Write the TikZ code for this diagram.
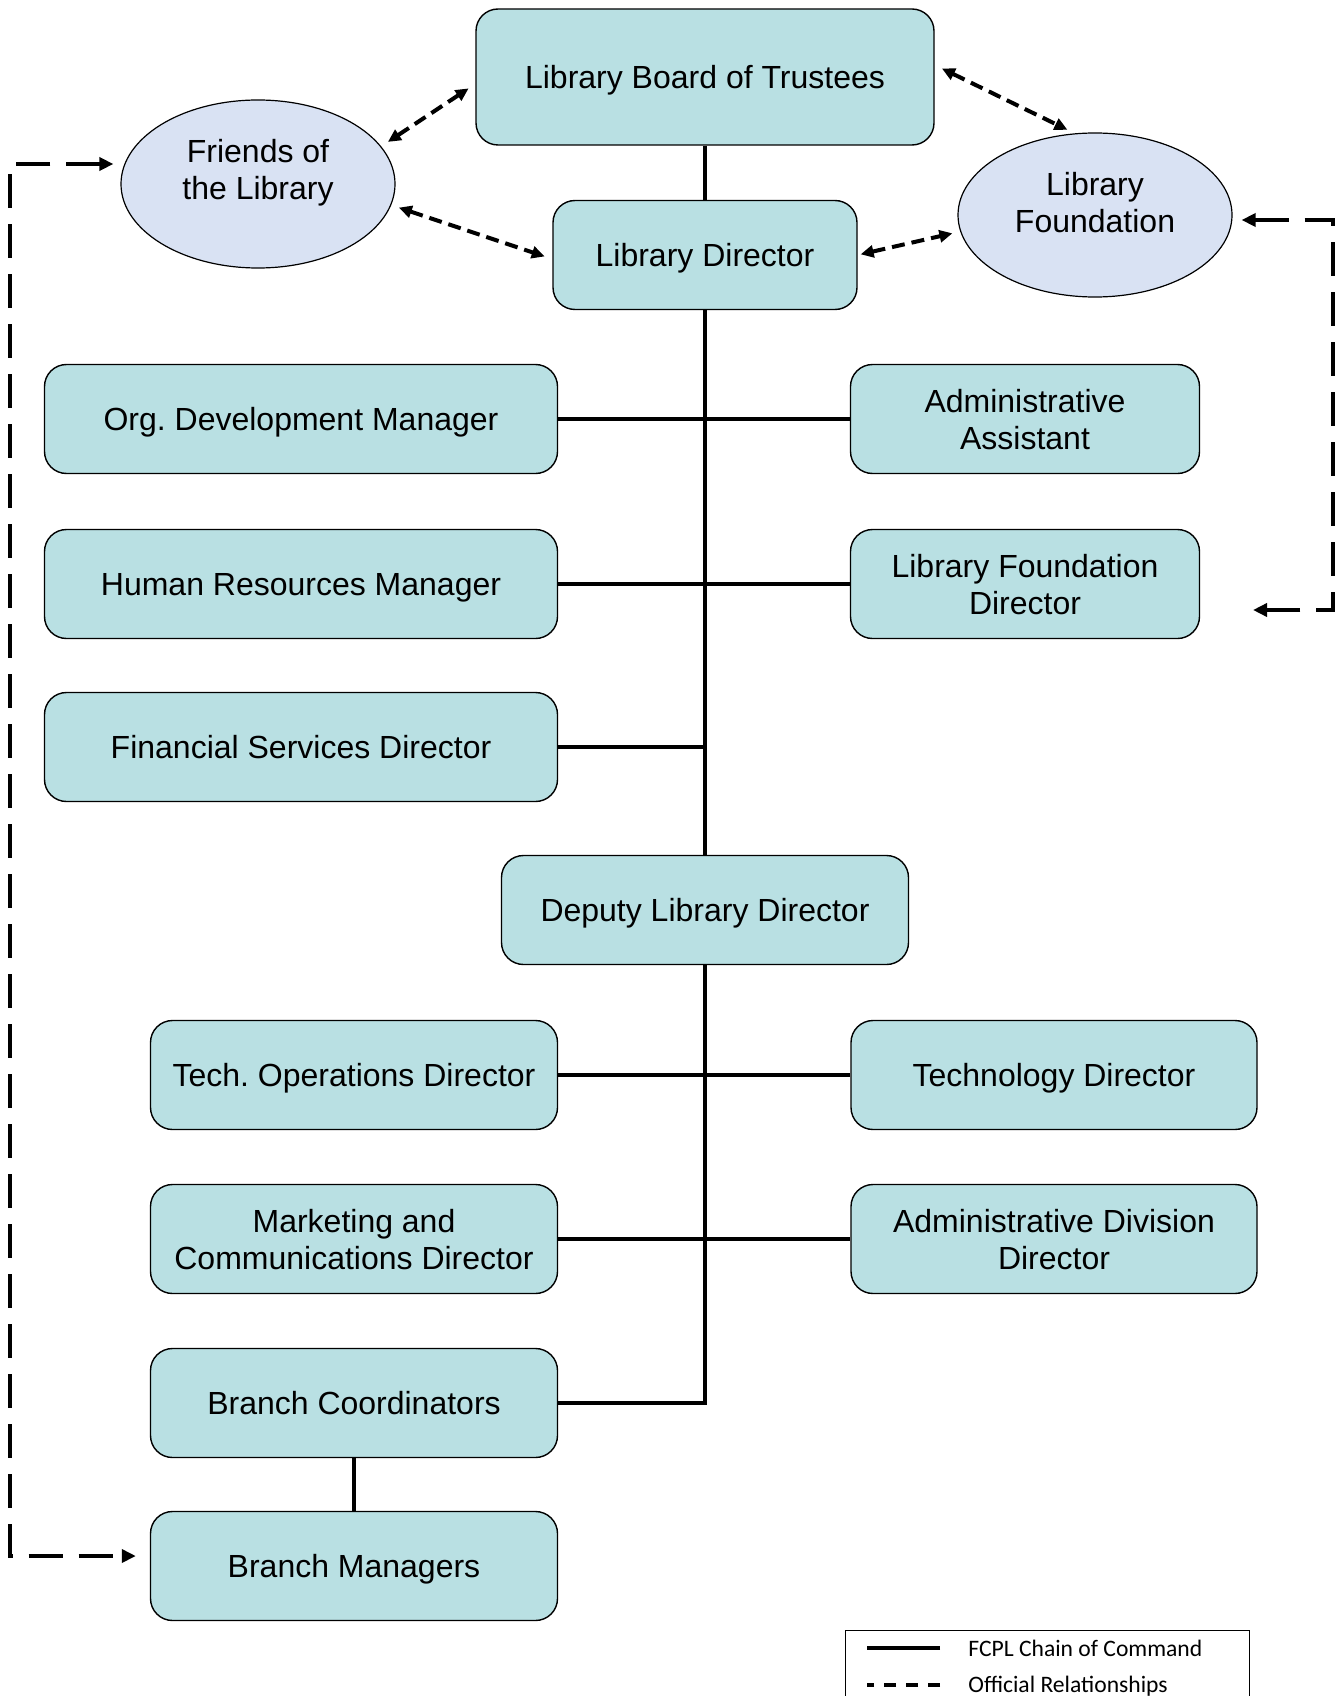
\documentclass[tikz,border=0pt]{standalone}
\usepackage{fontspec}
\setmainfont{Liberation Sans}
\newfontfamily\legendfont{Carlito}
\usetikzlibrary{arrows.meta,shapes.geometric}
\frenchspacing

\definecolor{boxfill}{RGB}{185,224,227}
\definecolor{ovalfill}{RGB}{217,226,243}
\def\chartfont{\fontsize{16}{18.5}\selectfont}
\def\keyfont{\legendfont\fontsize{11.8}{13}\selectfont}

\tikzset{
  unit/.style={draw, rounded corners=11pt, fill=boxfill, line width=0.7pt,
    minimum height=54.5pt, inner sep=0pt, align=center, text depth=0pt, font=\chartfont},
  oval/.style={ellipse, draw, fill=ovalfill, line width=0.6pt, inner sep=0pt,
    minimum width=137pt},
  chain/.style={line width=1.6pt},
  rel/.style={line width=2pt, dash pattern=on 6.5pt off 3.5pt,
    {Triangle[length=6.5pt,width=6pt]}-{Triangle[length=6.5pt,width=6pt]},
    shorten <=4pt, shorten >=4pt},
  rellong/.style={line width=2pt, dash pattern=on 17pt off 8pt,
    {Triangle[length=7pt,width=6.5pt]}-{Triangle[length=7pt,width=6.5pt]}}
}

\begin{document}
\begin{tikzpicture}[x=0.5pt,y=-0.5pt]
\useasboundingbox (0,0) rectangle (1343,1696);

\def\trunk{705}

% board, director and the two support groups
\node[unit, minimum width=229pt, minimum height=68pt] (board) at (\trunk,77) {Library Board of Trustees};
\node[unit, minimum width=152pt] (dir) at (\trunk,255) {Library Director};
\node[oval, minimum height=84pt,
  label={[align=center, font=\chartfont, yshift=5.5pt]center:Friends of\\the Library}] (fr) at (258,184) {};
\node[oval, minimum height=82pt,
  label={[align=center, font=\chartfont, yshift=6pt]center:Library\\Foundation}] (fo) at (1095,215) {};

% staff under the director
\foreach \name/\y/\txt in {org/419/Org. Development Manager, hr/584/Human Resources Manager, fsd/747/Financial Services Director}
  \node[unit, minimum width=256.5pt] (\name) at (301,\y) {\txt};
\foreach \name/\y/\txt in {aa/419/{Administrative\\Assistant}, lfd/584/{Library Foundation\\Director}}
  \node[unit, minimum width=174.5pt] (\name) at (1025,\y) {\txt};

\node[unit, minimum width=203.5pt] (dep) at (\trunk,910) {Deputy Library Director};

% staff under the deputy
\foreach \name/\y/\txt in {tod/1075/Tech. Operations Director, mcd/1239/{Marketing and\\Communications Director}, bco/1403/Branch Coordinators, bm/1566/Branch Managers}
  \node[unit, minimum width=203.5pt] (\name) at (354,\y) {\txt};
\foreach \name/\y/\txt in {td/1075/Technology Director, add/1239/{Administrative Division\\Director}}
  \node[unit, minimum width=203pt] (\name) at (1054,\y) {\txt};

% chain of command
\draw[chain] (board) -- (dir);
\draw[chain] (dir) -- (dep);
\draw[chain] (dep.south) |- (bco.east);
\foreach \l/\r in {org/aa, hr/lfd, tod/td, mcd/add}
  \draw[chain] (\l) -- (\r);
\draw[chain] (fsd.east) -- (fsd.east -| dir.south);
\draw[chain] (bco) -- (bm);

% official relationships
\draw[rel] (fr.17) -- ([yshift=-3.5pt]board.west);
\draw[rel] (fr.-9) -- ([yshift=-2pt]dir.west);
\draw[rel] ([yshift=6pt]board.east) -- (fo.104);
\draw[rel, shorten <=1.5pt] (dir.east) -- (fo.187);

\coordinate (lfdtip) at (1253,610);
\draw[rellong] ([shift={(-3.5pt,10pt)}]fr.west) -- ++(-103,0) |- ([shift={(-7pt,5pt)}]bm.west);
\draw[rellong] ([shift={(4.5pt,-2.5pt)}]fo.east) -- ++(91,0) |- (lfdtip);

% legend
\draw[line width=0.5pt] (845,1696) |- (1249,1630) -- (1249,1696);
\node[anchor=base west, inner sep=0pt, font=\keyfont] (legcmd) at (968,1656) {FCPL Chain of Command};
\node[anchor=base west, inner sep=0pt, font=\keyfont] (legrel) at (968,1692) {Official Relationships};
\draw[chain] ([shift={(-14pt,4pt)}]legcmd.base west) -- ++(-73,0);
\draw[line width=1.6pt, dash pattern=on 6pt off 5pt] ([shift={(-14pt,3.5pt)}]legrel.base west) -- ++(-73,0);
\end{tikzpicture}
\end{document}
